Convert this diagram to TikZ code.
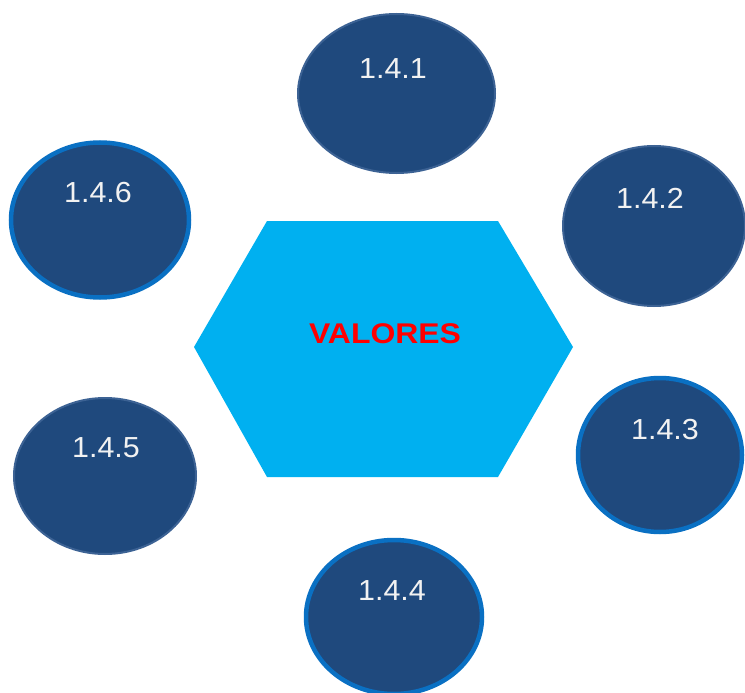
\documentclass[tikz,border=0pt]{standalone}
\usepackage{fontspec}
\setmainfont{Liberation Sans}
\usetikzlibrary{shapes.geometric}
\definecolor{dblue}{RGB}{31,73,125}
\definecolor{thinedge}{RGB}{60,98,148}
\definecolor{brightedge}{RGB}{10,112,195}
\definecolor{hexcol}{RGB}{0,176,240}
\definecolor{txtred}{RGB}{255,0,0}
\definecolor{numwhite}{RGB}{242,242,242}
\tikzset{
  bub/.style={ellipse, fill=dblue, inner sep=0pt},
  bubthin/.style={bub, draw=thinedge, line width=2pt},
  bubthick/.style={bub, draw=brightedge, line width=4.5pt},
  num/.style={text=numwhite, font=\fontsize{29}{29}\selectfont, inner sep=0pt, anchor=center},
  hexfill/.style={fill=hexcol}
}
\newcommand{\wide}[1]{\scalebox{1.12}[1]{#1}}
\newcommand{\numw}[1]{\scalebox{1.05}[1]{#1}}
\begin{document}
\begin{tikzpicture}[x=1pt,y=-1pt]
\useasboundingbox (0,0) rectangle (745,693);
% hexagon
\coordinate (h1) at (267,221);
\coordinate (h2) at (498,221);
\coordinate (h3) at (573,347);
\coordinate (h4) at (498,477);
\coordinate (h5) at (267,477);
\coordinate (h6) at (194,347);
\fill[hexfill] (h1) -- (h2) -- (h3) -- (h4) -- (h5) -- (h6) -- cycle;
\node[text=txtred, font=\bfseries\fontsize{28.5}{28.5}\selectfont, inner sep=0pt] (val) at (385,334) {\wide{VALORES}};
% bubbles
\node[bubthin, minimum width=197pt, minimum height=159pt] (e1) at (396.5,93.5) {};
\node[bubthin, minimum width=182pt, minimum height=160pt] (e2) at (654,226) {};
\node[bubthick, minimum width=164pt, minimum height=154pt] (e3) at (660,455) {};
\node[bubthick, minimum width=176pt, minimum height=154pt] (e4) at (394,617) {};
\node[bubthin, minimum width=182pt, minimum height=156pt] (e5) at (105,476) {};
\node[bubthick, minimum width=178pt, minimum height=155pt] (e6) at (100,220) {};
\node[num] (t1) at (393,69) {\numw{1.4.1}};
\node[num] (t2) at (650,198) {\numw{1.4.2}};
\node[num] (t3) at (665,430) {\numw{1.4.3}};
\node[num] (t4) at (392,591) {\numw{1.4.4}};
\node[num] (t5) at (106,448) {\numw{1.4.5}};
\node[num] (t6) at (98,193) {\numw{1.4.6}};
\end{tikzpicture}
\end{document}
